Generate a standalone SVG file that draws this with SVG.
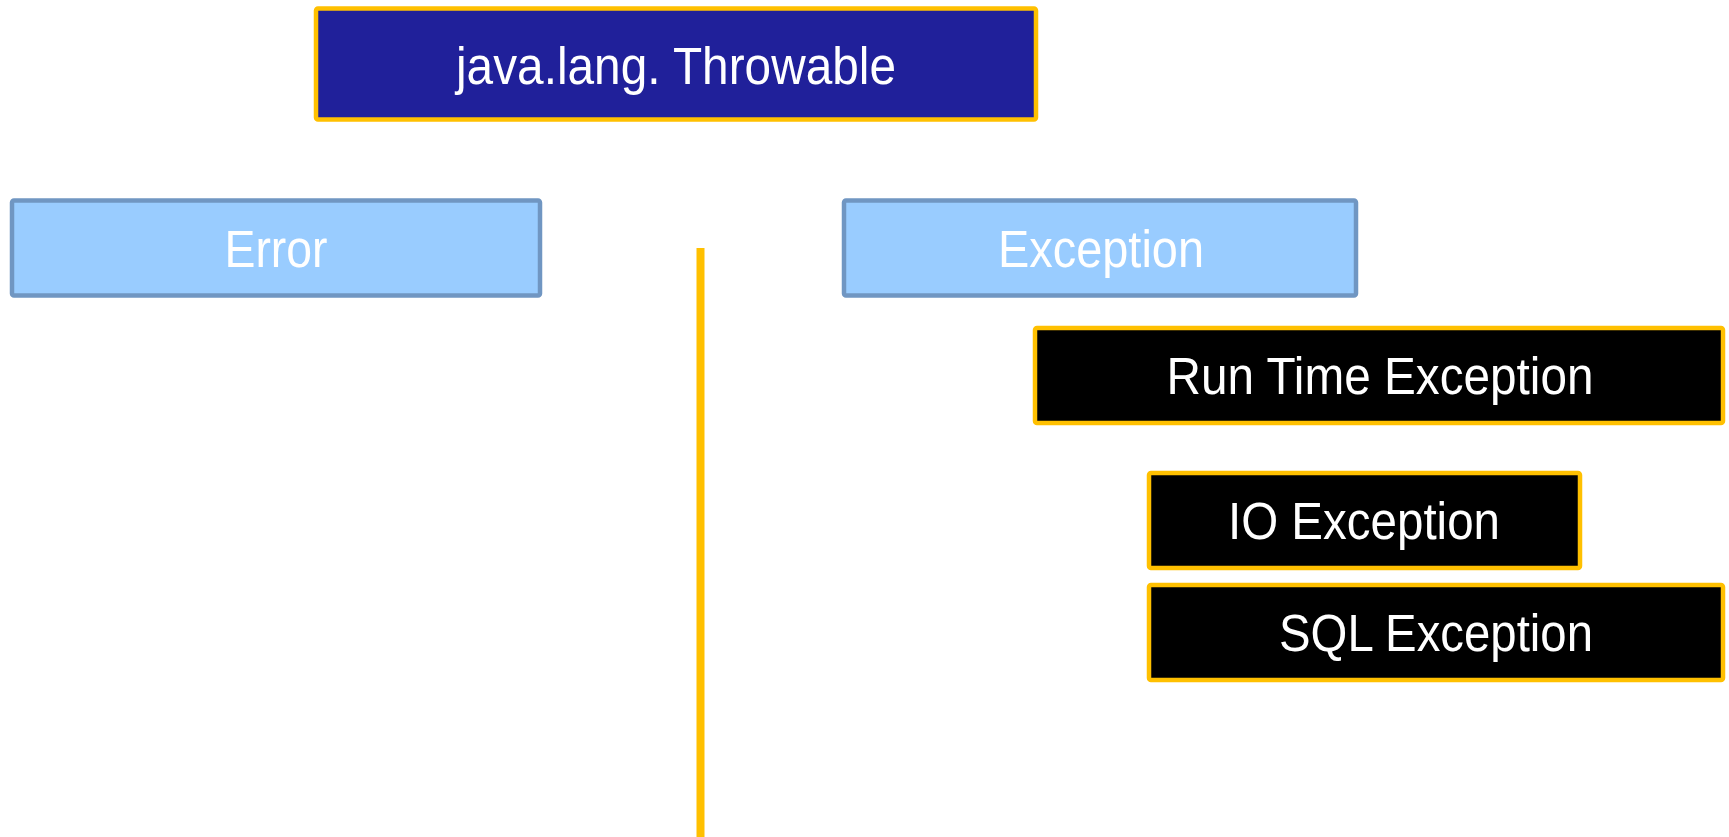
<svg xmlns="http://www.w3.org/2000/svg" width="1729" height="837" viewBox="0 0 1729 837">
  <style>
    .gold { fill: #000000; stroke: #FFC000; stroke-width: 4.5; }
    .top { fill: #20209A; stroke: #FFC000; stroke-width: 4.5; }
    .sky { fill: #99CCFF; stroke: #7096C2; stroke-width: 4.5; }
    .lbl { font-family: "Liberation Sans", Arial, sans-serif; font-size: 51px; fill: #FFFFFF; text-anchor: middle; }
    .rule { stroke: #FFC000; stroke-width: 8; fill: none; }
  </style>

  <!-- connectors -->
  <g id="connectors">
    <line class="rule" x1="700.5" y1="248" x2="700.5" y2="837"/>
  </g>

  <g id="throwable">
    <rect class="top" x="316" y="8.5" width="720" height="111" rx="2"/>
    <text class="lbl" x="676" y="84" textLength="440" lengthAdjust="spacingAndGlyphs">java.lang. Throwable</text>
  </g>

  <g id="error">
    <rect class="sky" x="12" y="200.5" width="528" height="95" rx="2"/>
    <text class="lbl" x="276" y="267" textLength="103" lengthAdjust="spacingAndGlyphs">Error</text>
  </g>

  <g id="exception">
    <rect class="sky" x="844" y="200.5" width="512" height="95" rx="2"/>
    <text class="lbl" x="1101" y="267" textLength="206" lengthAdjust="spacingAndGlyphs">Exception</text>
  </g>

  <g id="runtime-exception">
    <rect class="gold" x="1035" y="328" width="688" height="95" rx="2"/>
    <text class="lbl" x="1380" y="394" textLength="427" lengthAdjust="spacingAndGlyphs">Run Time Exception</text>
  </g>

  <g id="io-exception">
    <rect class="gold" x="1149" y="473" width="431" height="95" rx="2"/>
    <text class="lbl" x="1364" y="539" textLength="272" lengthAdjust="spacingAndGlyphs">IO Exception</text>
  </g>

  <g id="sql-exception">
    <rect class="gold" x="1149" y="585" width="574" height="95" rx="2"/>
    <text class="lbl" x="1436" y="651" textLength="314" lengthAdjust="spacingAndGlyphs">SQL Exception</text>
  </g>
</svg>
